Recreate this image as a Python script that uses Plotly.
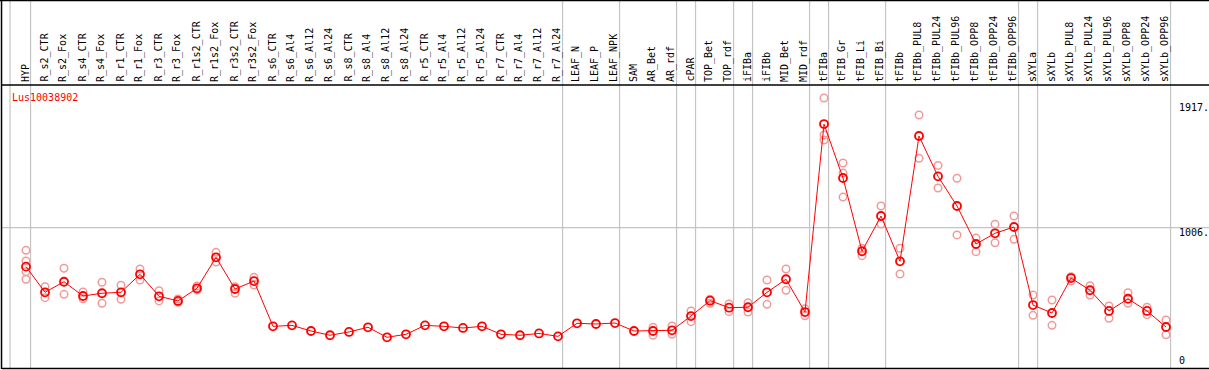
import plotly.graph_objects as go

categories = ["HYP", "R_s2_CTR", "R_s2_Fox", "R_s4_CTR", "R_s4_Fox", "R_r1_CTR", "R_r1_Fox",
              "R_r3_CTR", "R_r3_Fox", "R_r1s2_CTR", "R_r1s2_Fox", "R_r3s2_CTR", "R_r3s2_Fox",
              "R_s6_CTR", "R_s6_Al4", "R_s6_Al12", "R_s6_Al24", "R_s8_CTR", "R_s8_Al4",
              "R_s8_Al12", "R_s8_Al24", "R_r5_CTR", "R_r5_Al4", "R_r5_Al12", "R_r5_Al24",
              "R_r7_CTR", "R_r7_Al4", "R_r7_Al12", "R_r7_Al24", "LEAF_N", "LEAF_P", "LEAF_NPK",
              "SAM", "AR_Bet", "AR_rdf", "cPAR", "TOP_Bet", "TOP_rdf", "iFIBa", "iFIBb",
              "MID_Bet", "MID_rdf", "tFIBa", "tFIB_Gr", "tFIB_Li", "tFIB_Bi", "tFIBb",
              "tFIBb_PUL8", "tFIBb_PUL24", "tFIBb_PUL96", "tFIBb_OPP8", "tFIBb_OPP24",
              "tFIBb_OPP96", "sXYLa", "sXYLb", "sXYLb_PUL8", "sXYLb_PUL24", "sXYLb_PUL96",
              "sXYLb_OPP8", "sXYLb_OPP24", "sXYLb_OPP96"]

means = [722, 535, 612, 508, 528, 535, 666, 506, 472, 564, 790, 559, 617,
         287, 294, 253, 222, 246, 280, 207, 229, 294, 287, 275, 287, 229, 222, 235, 214,
         309, 304, 311, 253, 253, 258, 362, 474, 423, 426, 535, 630, 391,
         1761, 1368, 834, 1091, 761, 1674, 1380, 1164, 887, 965, 1011,
         442, 384, 639, 550, 399, 488, 399, 282]

N = None
rep_high = [841, 576, 710, 537, 608, 586, 705, 547, 486, 581, 826, 576, 644,
            N, N, N, N, N, N, N, N, N, N, N, N, N, N, N, N, N, N, N, N,
            280, 289, 399, 484, 450, 459, 625, 705, 415,
            1951, 1477, 856, 1164, 856, 1827, 1460, 1366, 931, 1031, 1091,
            515, 479, 649, 583, 435, 532, 426, 333]
rep_low = [630, 496, 520, 488, 455, 484, 625, 472, 462, 552, 756, 528, 588,
           N, N, N, N, N, N, N, N, N, N, N, N, N, N, N, N, N, N, N, N,
           222, 229, 321, 455, 394, 391, 447, 550, 364,
           1645, 1229, 802, 1033, 668, 1512, 1295, 953, 831, 896, 921,
           367, 294, 617, 515, 345, 455, 372, 226]
rep_mid1 = [763] + [N] * 41 + [1681, 1404] + [N] * 17
rep_mid2 = [685] + [N] * 60

gene_label = "Lus10038902"
ytick_vals = [1917, 1006, 0]
ytick_text = ["1917.", "1006.", "0"]
group_ends = ["HYP", "R_r7_Al24", "LEAF_NPK", "AR_rdf", "cPAR", "TOP_rdf", "iFIBa",
              "MID_rdf", "tFIBa", "tFIB_Bi", "tFIBb_OPP96", "sXYLa", "sXYLb_OPP96"]

FONT = "DejaVu Sans Mono"
RED = "#ff0000"
PINK = "#f29a9a"
GRID = "#c4c4c4"

idx = list(range(len(categories)))
fig = go.Figure()

for reps in (rep_high, rep_low, rep_mid1, rep_mid2):
    fig.add_trace(go.Scatter(
        x=idx, y=reps, mode="markers", hoverinfo="skip",
        marker=dict(symbol="circle-open", size=7.5, color=PINK, line=dict(width=1.5, color=PINK)),
    ))

fig.add_trace(go.Scatter(
    x=idx, y=means, mode="lines+markers",
    line=dict(color=RED, width=1),
    marker=dict(symbol="circle-open", size=8, color=RED, line=dict(width=1.8, color=RED)),
))

shapes = []
# vertical separators
shapes.append(dict(type="line", xref="x", yref="paper", x0=-0.84, x1=-0.84, y0=0, y1=1.31,
                   line=dict(color=GRID, width=1.2), layer="below"))
for name in group_ends:
    p = categories.index(name) + 0.24
    shapes.append(dict(type="line", xref="x", yref="paper", x0=p, x1=p, y0=0, y1=1.31,
                       line=dict(color=GRID, width=1.2), layer="below"))
# horizontal reference line
shapes.append(dict(type="line", xref="paper", yref="y", x0=0, x1=1, y0=ytick_vals[1], y1=ytick_vals[1],
                   line=dict(color=GRID, width=1.2), layer="below"))
# frame
blk = dict(color="black", width=1.5)
shapes += [
    dict(type="line", xref="paper", yref="paper", x0=0, x1=1, y0=1, y1=1, line=blk),
    dict(type="line", xref="paper", yref="paper", x0=0, x1=1, y0=0.002, y1=0.002, line=blk),
    dict(type="line", xref="paper", yref="paper", x0=-0.0004, x1=-0.0004, y0=0, y1=1.3, line=blk),
    dict(type="line", xref="paper", yref="paper", x0=-0.002, x1=1, y0=1.2975, y1=1.2975, line=blk),
]

annotations = []
for i, name in enumerate(categories):
    annotations.append(dict(x=i, xref="x", y=1, yref="paper", text=name, showarrow=False,
                            textangle=-90, xanchor="center", yanchor="bottom", xshift=-1, yshift=1,
                            font=dict(family=FONT, size=10, color="black")))
for v, t in zip(ytick_vals, ytick_text):
    annotations.append(dict(x=0.9735, xref="paper", y=v, yref="y", text=t, showarrow=False,
                            xanchor="left", yanchor="bottom" if v == 0 else "top",
                            yshift=-2 if v == 0 else 3,
                            font=dict(family=FONT, size=10, color="black")))
annotations.append(dict(x=0.0066, xref="paper", y=0.955, yref="paper", text=gene_label,
                        showarrow=False, xanchor="left", yanchor="middle",
                        font=dict(family=FONT, size=10, color=RED)))

fig.update_layout(
    width=1209, height=370,
    margin=dict(l=2, r=0, t=85, b=1),
    paper_bgcolor="white", plot_bgcolor="white",
    showlegend=False,
    xaxis=dict(range=[-1.263, 62.263], visible=False, fixedrange=True),
    yaxis=dict(range=[-24, 2045.8], visible=False, fixedrange=True),
    shapes=shapes, annotations=annotations,
)

fig.write_html("out.html", config={"displayModeBar": False},
               post_script="document.body.style.margin='0';")
